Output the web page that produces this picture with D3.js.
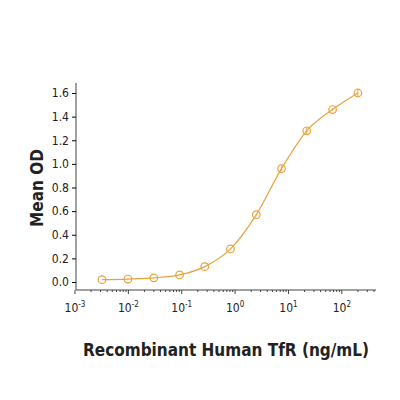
<!DOCTYPE html>
<html><head><meta charset="utf-8">
<script src="https://cdn.jsdelivr.net/npm/d3@7"></script>
<style>body{margin:0;background:#fff}text{font-family:"Liberation Sans Narrow","DejaVu Sans Condensed","Open Sans",sans-serif}</style>
</head><body><svg id="chart" width="400" height="400"></svg>
<script>
const conc = [0.0032, 0.0098, 0.03, 0.091, 0.27, 0.82, 2.5, 7.4, 22, 67, 200];
const od = [0.02, 0.025, 0.035, 0.06, 0.13, 0.28, 0.57, 0.96, 1.28, 1.46, 1.60];
const err = [0, 0, 0, 0, 0, 0, 0, 0.02, 0.03, 0.01, 0.03];
const yTicks = [0, 0.2, 0.4, 0.6, 0.8, 1.0, 1.2, 1.4, 1.6];
const xTicks = [1e-3, 1e-2, 1e-1, 1, 10, 100];
const color = "#e9a23b";

const svg = d3.select("#chart");
const x = d3.scaleLog().domain([1e-3, 10 ** 2.64]).range([75, 376]);
const y = d3.scaleLinear().domain([0, 1.6]).range([282, 93]);

// axes
const ya = svg.append("g").attr("transform", "translate(76,0)")
  .call(d3.axisLeft(y).tickValues(yTicks).tickFormat(d3.format(".1f")).tickSize(4));
ya.select(".domain").attr("d", "M0,83V290");
ya.selectAll("text").attr("font-size", 12).attr("fill", "#222");

const minor = [];
for (let e = -3; e <= 2; e++) for (let k = 2; k <= 9; k++) {
  const v = k * 10 ** e; if (v <= x.domain()[1]) minor.push(v);
}
const xg = svg.append("g").attr("transform", "translate(0,290)");
xg.append("line").attr("x1", 76).attr("x2", 376).attr("stroke", "#444");
xg.selectAll(".maj").data(xTicks).join("line")
  .attr("x1", d => x(d)).attr("x2", d => x(d)).attr("y2", 4).attr("stroke", "#444");
xg.selectAll(".min").data(minor).join("line")
  .attr("x1", d => x(d)).attr("x2", d => x(d)).attr("y2", 2).attr("stroke", "#444");
const lab = xg.selectAll(".lab").data(xTicks).join("text")
  .attr("x", d => x(d)).attr("y", 22).attr("text-anchor", "middle")
  .attr("font-size", 12).attr("fill", "#222");
lab.append("tspan").text("10");
lab.append("tspan").attr("dy", -5).attr("font-size", 8).text(d => Math.round(Math.log10(d)));
svg.selectAll("path.domain").attr("stroke", "#444");

// curve
svg.append("path").datum(conc.map((c, i) => [c, od[i]]))
  .attr("fill", "none").attr("stroke", color).attr("stroke-width", 1.2)
  .attr("d", d3.line().x(d => x(d[0])).y(d => y(d[1])).curve(d3.curveMonotoneX));

// error bars + points
svg.selectAll(".eb").data(conc).join("line")
  .attr("x1", d => x(d)).attr("x2", d => x(d))
  .attr("y1", (d, i) => y(od[i] + err[i])).attr("y2", (d, i) => y(od[i] - err[i]))
  .attr("stroke", color);
svg.selectAll(".pt").data(conc).join("circle")
  .attr("cx", d => x(d)).attr("cy", (d, i) => y(od[i])).attr("r", 3.8)
  .attr("fill", "none").attr("stroke", color).attr("stroke-width", 1.2);

// labels
svg.append("text").attr("transform", "translate(43,188) rotate(-90)")
  .attr("text-anchor", "middle").attr("font-size", 17).attr("font-weight", "bold")
  .attr("fill", "#222").text("Mean OD");
svg.append("text").attr("x", 226).attr("y", 356).attr("text-anchor", "middle")
  .attr("font-size", 17).attr("font-weight", "bold").attr("fill", "#222")
  .text("Recombinant Human TfR (ng/mL)");
</script></body></html>
